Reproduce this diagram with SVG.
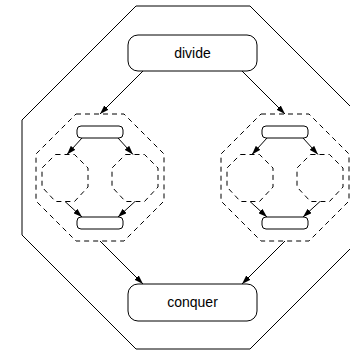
<svg xmlns="http://www.w3.org/2000/svg" width="350" height="350" viewBox="0 0 350 350">
  <style>
    .frame { fill: none; stroke: #000; stroke-width: 1; }
    .box { fill: #fff; stroke: #000; stroke-width: 1; }
    .dash { fill: none; stroke: #000; stroke-width: 1; stroke-dasharray: 5 4; }
    .edge { fill: none; stroke: #000; stroke-width: 1; marker-end: url(#arrow); }
    .label { font-family: "Liberation Sans", Arial, sans-serif; font-size: 14px; fill: #000; text-anchor: middle; }
  </style>
  <defs>
    <marker id="arrow" viewBox="0 0 9 6" refX="9" refY="3" markerWidth="9" markerHeight="6" markerUnits="userSpaceOnUse" orient="auto">
      <path d="M0,0 L9,3 L0,6 z" fill="#000"/>
    </marker>
    <!-- dashed sub-problem cluster, drawn around its own centre -->
    <g id="cluster">
      <polygon class="dash" points="-24,-64 24,-64 64,-24 64,23 24,63 -24,63 -64,23 -64,-24"/>
      <polygon class="dash" points="-44.5,-23.5 -25.5,-23.5 -12,-10 -12,9 -25.5,23.5 -44.5,23.5 -58,9 -58,-10"/>
      <polygon class="dash" points="25.5,-23.5 44.5,-23.5 58,-10 58,9 44.5,23.5 25.5,23.5 12,9 12,-10"/>
      <rect class="box" x="-23" y="-52" width="46" height="12" rx="4"/>
      <rect class="box" x="-23" y="39" width="46" height="12" rx="4"/>
      <line class="edge" x1="-18" y1="-40" x2="-33" y2="-23.5"/>
      <line class="edge" x1="18" y1="-40" x2="33" y2="-23.5"/>
      <line class="edge" x1="-35" y1="23.5" x2="-18" y2="39"/>
      <line class="edge" x1="35" y1="23.5" x2="18" y2="39"/>
    </g>
  </defs>

  <!-- enclosing octagon -->
  <polygon class="frame" points="136,6 250,6 364,120 364,235 250,349 136,349 22,235 22,120"/>

  <g id="divide">
    <rect class="box" x="128" y="35" width="129" height="36" rx="10"/>
    <text class="label" x="192.5" y="57.5">divide</text>
  </g>

  <g id="conquer">
    <rect class="box" x="128" y="284" width="129" height="37" rx="10"/>
    <text class="label" x="192.5" y="307">conquer</text>
  </g>

  <g id="left-part">
    <use href="#cluster" x="100" y="178"/>
  </g>

  <g id="right-part">
    <use href="#cluster" x="285" y="178"/>
  </g>

  <g id="connectors">
    <line class="edge" x1="143" y1="71" x2="100" y2="114"/>
    <line class="edge" x1="242" y1="71" x2="285" y2="114"/>
    <line class="edge" x1="100" y1="241" x2="143" y2="284"/>
    <line class="edge" x1="285" y1="241" x2="242" y2="284"/>
  </g>
</svg>
